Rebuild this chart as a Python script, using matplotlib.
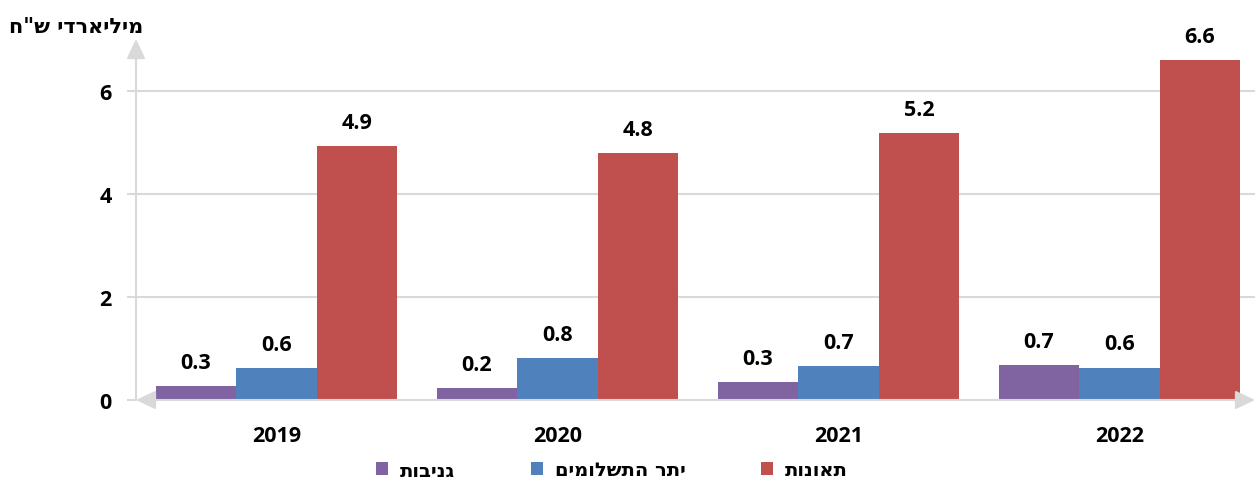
import matplotlib
matplotlib.use("Agg")
import matplotlib.pyplot as plt
import numpy as np
from matplotlib.patches import ArrowStyle

plt.rcParams['font.family'] = ['Open Sans', 'DejaVu Sans']
plt.rcParams['font.weight'] = 'bold'
HEB = ['DejaVu Sans']

def rtl(s):
    return s[::-1]

years = ['2019', '2020', '2021', '2022']
series_names = ['גניבות', 'יתר התשלומים', 'תאונות']
thefts = [0.27, 0.24, 0.34, 0.68]
overpay = [0.62, 0.81, 0.66, 0.63]
accidents = [4.93, 4.78, 5.18, 6.60]
labels_thefts = ['0.3', '0.2', '0.3', '0.7']
labels_overpay = ['0.6', '0.8', '0.7', '0.6']
labels_accidents = ['4.9', '4.8', '5.2', '6.6']
colors = ['#8064A2', '#4F81BD', '#C0504D']
y_ticks = [0, 2, 4, 6]
y_title = 'מיליארדי ש"ח'

W, H = 1255, 481
fig = plt.figure(figsize=(W / 100, H / 100), dpi=100)
ax = fig.add_axes([136 / W, 1 - 401 / H, (1255 - 136) / W, (401 - 40) / H])

x = np.arange(len(years))
bw = 0.2865
series = [thefts, overpay, accidents]
labels = [labels_thefts, labels_overpay, labels_accidents]
handles = []
for i, (vals, lab, col) in enumerate(zip(series, labels, colors)):
    pos = x + (i - 1) * bw
    b = ax.bar(pos, vals, width=bw, color=col, zorder=3, label=rtl(series_names[i]))
    handles.append(b)
    for p, v, t in zip(pos, vals, lab):
        ax.annotate(t, xy=(p, v), xytext=(0, 13), textcoords='offset points',
                    ha='center', va='baseline', fontsize=15.5, fontweight='bold',
                    color='black')

ax.set_xlim(-0.5, 3.5 - 5 / 281)
ax.set_ylim(0, 7.0)
ax.set_yticks(y_ticks)
ax.set_yticklabels([str(t) for t in y_ticks], fontsize=15.5, fontweight='bold')
ax.set_xticks(x)
ax.set_xticklabels(years, fontsize=15.5, fontweight='bold')
ax.tick_params(axis='y', length=6.5, color='#D9D9D9', width=1.5, pad=11)
ax.tick_params(axis='x', length=0, pad=18)
for s in ax.spines.values():
    s.set_visible(False)
for t in [2, 4, 6]:
    ax.axhline(t, color='#D9D9D9', lw=1.5, zorder=1)

astyle = ArrowStyle('-|>', head_length=0.8, head_width=0.38)
ax.annotate('', xy=(0, 1), xytext=(0, 0), xycoords='axes fraction',
            arrowprops=dict(arrowstyle=astyle, color='#D9D9D9', lw=1.5,
                            shrinkA=0, shrinkB=0, mutation_scale=15), zorder=2,
            annotation_clip=False)
astyle2 = ArrowStyle('<|-|>', head_length=0.8, head_width=0.38)
ax.annotate('', xy=(1, 0), xytext=(0, 0), xycoords='axes fraction',
            arrowprops=dict(arrowstyle=astyle2, color='#D9D9D9', lw=1.5,
                            shrinkA=0, shrinkB=0, mutation_scale=15), zorder=4,
            annotation_clip=False)

fig.text(143 / W, 1 - 27 / H, rtl(y_title), ha='right', va='center',
         fontsize=15, fontweight='bold', family=HEB)

fig.legend(handles=handles, loc='center', bbox_to_anchor=(612 / W, 10 / H),
           ncol=3, frameon=False, handlelength=0.62, handleheight=0.62,
           handletextpad=0.6, columnspacing=3.9, borderpad=0,
           prop=dict(family=HEB, weight='bold', size=14))

fig.savefig('out.png', dpi=100)
